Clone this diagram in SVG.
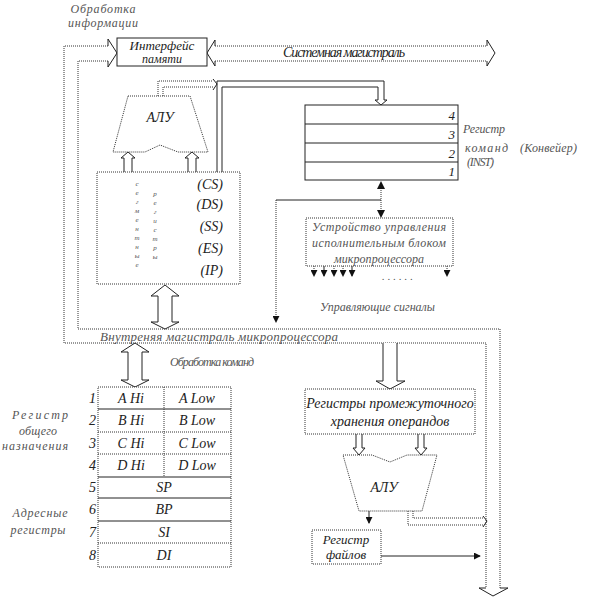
<svg xmlns="http://www.w3.org/2000/svg" width="591" height="597" viewBox="0 0 591 597">
<style>
.t{font-family:"Liberation Serif","Times New Roman",serif;font-style:italic;fill:#222}
.s{font-family:"Liberation Serif","Times New Roman",serif;font-style:italic;fill:#555}
.ln{fill:none;stroke:#222;stroke-width:1}
.dt{fill:none;stroke:#333;stroke-width:1;stroke-dasharray:1 1}
.box{fill:#fff;stroke:#333;stroke-width:1;stroke-dasharray:1 1}
.sbox{fill:#fff;stroke:#222;stroke-width:1}
.ha{fill:#fff;stroke:#222;stroke-width:1}
.fa{fill:#111}
</style>
<defs>
<marker id="ah" viewBox="0 0 8 8" refX="7" refY="4" markerWidth="7" markerHeight="7" orient="auto" markerUnits="userSpaceOnUse">
<path d="M0,0 L8,4 L0,8 Z" fill="#111"/>
</marker>
</defs>
<rect width="591" height="597" fill="#fff"/>

<g id="labels">
<text class="s" x="103" y="13" font-size="12" text-anchor="middle" textLength="65">Обработка</text>
<text class="s" x="103" y="27" font-size="12" text-anchor="middle" textLength="70">информации</text>
<text class="t" x="283" y="57" font-size="14" textLength="122">Системная магистраль</text>
<text class="s" x="100" y="341" font-size="13" textLength="238">Внутреняя магистраль микропроцессора</text>
<text class="s" x="170" y="366" font-size="12" textLength="84">Обработка команд</text>
<text class="s" x="320" y="311" font-size="12" textLength="115">Управляющие сигналы</text>
<text class="s" x="463" y="133" font-size="12" textLength="42">Регистр</text>
<text class="s" x="465" y="152" font-size="12" textLength="43">команд</text>
<text class="s" x="520" y="152" font-size="12" textLength="57">(Конвейер)</text>
<text class="s" x="467" y="166" font-size="12" textLength="27">(INST)</text>
<text class="s" x="40" y="419" font-size="12" text-anchor="middle" textLength="56">Регистр</text>
<text class="s" x="38" y="435" font-size="12" text-anchor="middle" textLength="38">общего</text>
<text class="s" x="35" y="450" font-size="12" text-anchor="middle" textLength="66">назначения</text>
<text class="s" x="40" y="517" font-size="12" text-anchor="middle" textLength="55">Адресные</text>
<text class="s" x="38" y="534" font-size="12" text-anchor="middle" textLength="55">регистры</text>
</g>

<g id="connectors">
<path class="dt" d="M108,46 H64 V343 H486 V588"/>
<path class="dt" d="M108,61 H78 V329 H500 V588"/>
<path class="ln" d="M108,46 V39 L117,53 L108,67 V61"/>
<path class="ln" d="M486,588 H479 L493,596 L508,588 H500"/>
<path class="dt" d="M215,46 H487 M215,61 H487"/>
<path class="ln" d="M215,46 V40 L207,53 L215,66 V61"/>
<path class="ln" d="M487,46 V40 L495,53 L487,66 V61"/>
<path class="dt" d="M158,96 V81 H213 M163,96 V87 H213"/>
<path class="ln" d="M213,79 L217,84 L213,90"/>
<path class="ln" d="M217,172 V81 H384 V100 M222,172 V87 H378 V100"/>
<path class="ha" d="M378,100 H375 L381,105 L387,100 H384"/>
<path class="ha" d="M124,172 V158 H121 L128,152 L135,158 H132 V172"/>
<path class="ha" d="M188,172 V158 H185 L192,152 L199,158 H196 V172"/>
<path class="ha" d="M165,285 L179,296 H172 V322 H179 L165,329 L151,322 H158 V296 H151 Z"/>
<path class="ha" d="M135,343 L149,352 H142 V380 H149 L135,387 L121,380 H128 V352 H121 Z"/>
<path class="dt" d="M381,188 V211"/>
<path class="fa" d="M381,181 L377,189 L385,189 Z M381,218 L377,210 L385,210 Z"/>
<path class="ln" d="M381,200 H276"/>
<path class="dt" d="M276,200 V322" marker-end="url(#ah)"/>
<path class="dt" d="M314,266 V276" marker-end="url(#ah)"/>
<path class="ln" d="M324,266 V276" marker-end="url(#ah)"/>
<path class="dt" d="M334,266 V276" marker-end="url(#ah)"/>
<path class="dt" d="M343,266 V276" marker-end="url(#ah)"/>
<path class="ln" d="M352,266 V276" marker-end="url(#ah)"/>
<path class="dt" d="M447,266 V276" marker-end="url(#ah)"/>
<text class="s" x="382" y="280" font-size="11" textLength="31">. . . . . .</text>
<path class="ha" d="M383,343 V381 H376 L390,389 L405,381 H397 V343"/>
<path class="ha" d="M356,434 V448 H353 L359,455 L365,448 H362 V434"/>
<path class="ha" d="M418,434 V448 H415 L421,455 L427,448 H424 V434"/>
<path class="ln" d="M369,511 V523" marker-end="url(#ah)"/>
<path class="dt" d="M408,511 V525 H483 M413,511 V518 H483"/>
<path class="ln" d="M483,516 L487,521 L483,527"/>
<path class="ln" d="M381,556 H480" marker-end="url(#ah)"/>
</g>

<g id="mem-interface">
<rect class="sbox" x="117" y="38" width="90" height="28"/>
<text class="t" x="162" y="50" font-size="13" text-anchor="middle">Интерфейс</text>
<text class="t" x="162" y="63" font-size="12" text-anchor="middle">памяти</text>
</g>

<g id="alu-top">
<path class="box" d="M128,96 H190 L208,152 H178 L160,145 L145,152 H113 Z"/>
<text class="t" x="160" y="122" font-size="14" text-anchor="middle">АЛУ</text>
</g>

<g id="segment-regs">
<rect class="box" x="97" y="172" width="143" height="112"/>
<g class="s" font-size="7" text-anchor="middle">
<text x="137" y="186">с</text><text x="137" y="195">е</text><text x="137" y="204">г</text><text x="137" y="213">м</text><text x="137" y="222">е</text><text x="137" y="231">н</text><text x="137" y="240">т</text><text x="137" y="249">н</text><text x="137" y="258">ы</text><text x="137" y="267">е</text>
<text x="155" y="196">р</text><text x="155" y="205">е</text><text x="155" y="214">г</text><text x="155" y="223">и</text><text x="155" y="232">с</text><text x="155" y="241">т</text><text x="155" y="250">р</text><text x="155" y="259">ы</text>
</g>
<g class="t" font-size="14" text-anchor="end">
<text x="223" y="189">(CS)</text>
<text x="223" y="209">(DS)</text>
<text x="223" y="231">(SS)</text>
<text x="223" y="253">(ES)</text>
<text x="223" y="275">(IP)</text>
</g>
</g>

<g id="instr-reg">
<rect class="sbox" x="305" y="105" width="153" height="75"/>
<path class="ln" d="M305,124 H458 M305,143 H458 M305,162 H458"/>
<g class="t" font-size="13" text-anchor="end">
<text x="455" y="120">4</text>
<text x="455" y="139">3</text>
<text x="455" y="158">2</text>
<text x="455" y="176">1</text>
</g>
</g>

<g id="control-unit">
<rect class="box" x="306" y="218" width="147" height="48"/>
<text class="s" x="379" y="231" font-size="12" text-anchor="middle" textLength="134">Устройство управления</text>
<text class="s" x="379" y="247" font-size="12" text-anchor="middle" textLength="134">исполнительным блоком</text>
<text class="s" x="379" y="263" font-size="12" text-anchor="middle" textLength="90">микропроцессора</text>
</g>

<g id="gp-regs">
<rect class="box" x="98" y="387" width="133" height="180"/>
<path class="ln" d="M98,409 H231 M98,477 H231 M98,498 H231 M98,521 H231"/>
<path class="dt" d="M98,432 H231 M98,454 H231 M98,543 H231 M164,387 V477"/>
<g class="t" font-size="14" text-anchor="end">
<text x="96" y="403">1</text><text x="96" y="425">2</text><text x="96" y="448">3</text><text x="96" y="470">4</text>
<text x="96" y="492">5</text><text x="96" y="514">6</text><text x="96" y="537">7</text><text x="96" y="560">8</text>
</g>
<g class="t" font-size="14" text-anchor="middle">
<text x="131" y="403">A Hi</text><text x="197" y="403">A Low</text>
<text x="131" y="425">B Hi</text><text x="197" y="425">B Low</text>
<text x="131" y="448">C Hi</text><text x="197" y="448">C Low</text>
<text x="131" y="470">D Hi</text><text x="197" y="470">D Low</text>
<text x="164" y="492">SP</text>
<text x="164" y="514">BP</text>
<text x="164" y="537">SI</text>
<text x="164" y="560">DI</text>
</g>
</g>

<g id="operand-regs">
<rect class="box" x="305" y="389" width="170" height="45"/>
<text class="t" x="390" y="408" font-size="14" text-anchor="middle">Регистры промежуточного</text>
<text class="t" x="390" y="426" font-size="14" text-anchor="middle">хранения операндов</text>
</g>

<g id="alu-bottom">
<path class="box" d="M343,455 H372 L390,462 L407,455 H437 L422,511 H359 Z"/>
<text class="t" x="384" y="492" font-size="14" text-anchor="middle">АЛУ</text>
</g>

<g id="reg-file">
<rect class="box" x="312" y="530" width="69" height="34"/>
<text class="t" x="346" y="544" font-size="13" text-anchor="middle">Регистр</text>
<text class="t" x="346" y="559" font-size="13" text-anchor="middle">файлов</text>
</g>
</svg>
